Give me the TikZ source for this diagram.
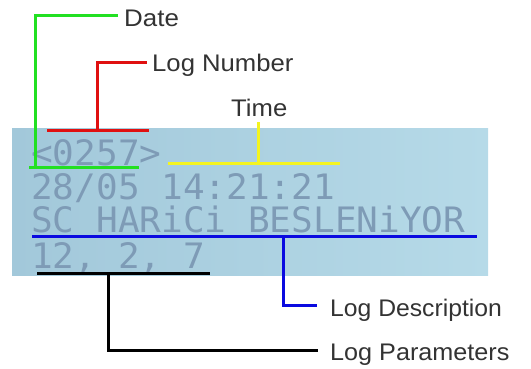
\documentclass[tikz,border=0pt]{standalone}
\usepackage{fontspec}
\setmainfont{Liberation Sans}
\newfontfamily\lcdfont{DejaVu Sans Mono}
\definecolor{lcdL}{HTML}{A2C8DA}
\definecolor{lcdR}{HTML}{B6DAE8}
\definecolor{lcdtext}{HTML}{7E9BB6}
\definecolor{gr}{HTML}{22E022}
\definecolor{rd}{HTML}{E01010}
\definecolor{ye}{HTML}{F4F420}
\definecolor{bl}{HTML}{0A0AE0}
\begin{document}
\begin{tikzpicture}[x=1pt,y=-1pt,
  lbl/.style={anchor=base west, inner sep=0, font=\fontsize{24}{24}\selectfont, text=black!80},
  lcd/.style={anchor=base west, inner sep=0, font=\lcdfont\fontsize{35}{35}\selectfont, text=lcdtext},
  br/.style={line width=3pt}]
\useasboundingbox (0,0) rectangle (531,369);
\shade[left color=lcdL, right color=lcdR] (12,129) rectangle (488,275);
% LCD text
\node[lcd] (l1) at (31,165) {\scalebox{1.03}[1]{<0257>}};
\node[lcd] (l2) at (31,200) {\scalebox{1.03}[1]{28/05 14:21:21}};
\node[lcd] (l3) at (31,232) {\scalebox{1.03}[1]{SC HARiCi BESLENiYOR}};
\node[lcd] (l4) at (31,268) {\scalebox{1.03}[1]{12, 2, 7}};
% labels
\node[lbl] (date) at (124,27) {\scalebox{1.08}[1]{Date}};
\node[lbl] (lognum) at (152,72) {\scalebox{1.07}[1]{Log Number}};
\node[lbl] (time) at (231,117) {\scalebox{1.07}[1]{Time}};
\node[lbl] (logdesc) at (330,316) {\scalebox{1.03}[1]{Log Description}};
\node[lbl] (logpar) at (330,360) {\scalebox{1.05}[1]{Log Parameters}};
% bracket ends
\coordinate (gL) at (29,168); \coordinate (gR) at (139,168);
\coordinate (rL) at (47,131); \coordinate (rR) at (149,131);
\coordinate (yL) at (168,164); \coordinate (yR) at (340,164);
\coordinate (bL) at (32,236); \coordinate (bR) at (477,236);
\coordinate (kL) at (37,273); \coordinate (kR) at (210,273);
% brackets
\draw[br,gr] (gL) -- (gR);
\draw[br,gr] (35,168) -- (35,16) -- ([xshift=-6pt]date.west |- 0,16);
\draw[br,rd] (rL) -- (rR);
\draw[br,rd] (97,131) -- (97,63) -- ([xshift=-5pt]lognum.west |- 0,63);
\draw[br,ye] (yL) -- (yR);
\draw[br,ye] (258,164) -- (258,122);
\draw[br,bl] (bL) -- (bR);
\draw[br,bl] (283,236) -- (283,305) -- ([xshift=-13pt]logdesc.west |- 0,305);
\draw[br,black] (kL) -- (kR);
\draw[br,black] (108,273) -- (108,350) -- ([xshift=-12pt]logpar.west |- 0,350);
\end{tikzpicture}
\end{document}
